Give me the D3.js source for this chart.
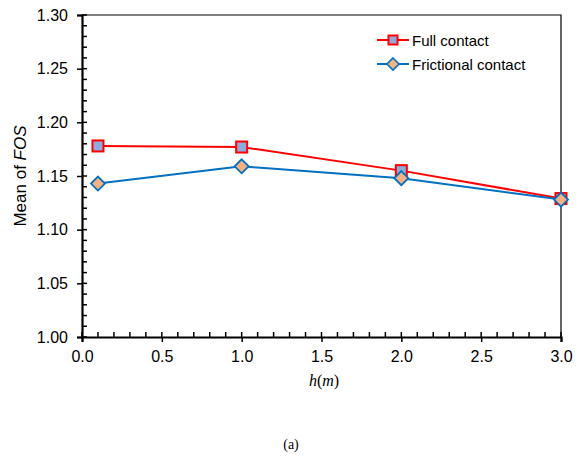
<!DOCTYPE html>
<html>
<head>
<meta charset="utf-8">
<script src="https://cdn.jsdelivr.net/npm/d3@7"></script>
<style>
body { margin: 0; background: #fff; }
</style>
</head>
<body>
<div id="chart"></div>
<script>
var hValues = [0.1, 1.0, 2.0, 3.0];
var fullContact = [1.178, 1.177, 1.155, 1.129];
var frictionalContact = [1.143, 1.159, 1.148, 1.128];
var seriesNames = ["Full contact", "Frictional contact"];
var xTicks = [0, 0.5, 1, 1.5, 2, 2.5, 3];
var yTicks = [1.00, 1.05, 1.10, 1.15, 1.20, 1.25, 1.30];

var width = 582, height = 466;
var mLeft = 82, mRight = 561, mTop = 15, mBottom = 337;
var sans = "Liberation Sans, Arial, sans-serif";
var serif = "Liberation Serif, Times New Roman, serif";

var svg = d3.select("#chart").append("svg")
    .attr("width", width)
    .attr("height", height)
    .style("font-family", sans);

var x = d3.scaleLinear().domain([0, 3]).range([mLeft, mRight]);
var y = d3.scaleLinear().domain([1.0, 1.3]).range([mBottom, mTop]);

// frame top and right
svg.append("path")
    .attr("d", "M" + mLeft + "," + mTop + "H" + mRight + "V" + mBottom)
    .attr("fill", "none")
    .attr("stroke", "#000")
    .attr("stroke-width", 1.2);

// minor ticks (inside)
var xMinor = d3.range(0, 31).map(function (i) { return i / 10; });
svg.append("g").selectAll("line")
    .data(xMinor)
    .enter().append("line")
    .attr("x1", function (d) { return x(d); })
    .attr("x2", function (d) { return x(d); })
    .attr("y1", mBottom)
    .attr("y2", mBottom - 5)
    .attr("stroke", "#000")
    .attr("stroke-width", 1.5);

var yMinor = d3.range(0, 31).map(function (i) { return 1 + i / 100; });
svg.append("g").selectAll("line")
    .data(yMinor)
    .enter().append("line")
    .attr("x1", mLeft)
    .attr("x2", mLeft + 5)
    .attr("y1", function (d) { return y(d); })
    .attr("y2", function (d) { return y(d); })
    .attr("stroke", "#000")
    .attr("stroke-width", 1.5);

// axes
var xAxis = svg.append("g")
    .attr("transform", "translate(0," + mBottom + ")")
    .call(d3.axisBottom(x).tickValues(xTicks).tickFormat(d3.format(".1f")).tickSize(5).tickPadding(6));
var yAxis = svg.append("g")
    .attr("transform", "translate(" + mLeft + ",0)")
    .call(d3.axisLeft(y).tickValues(yTicks).tickFormat(d3.format(".2f")).tickSize(5).tickPadding(9));

[xAxis, yAxis].forEach(function (g) {
    g.select(".domain").attr("stroke-width", 2.2);
    g.selectAll(".tick line").attr("stroke-width", 1.5);
    g.selectAll(".tick text")
        .attr("font-size", 16)
        .attr("font-family", sans)
        .attr("fill", "#000");
});
xAxis.selectAll(".tick text").attr("dy", "0.85em");

// lines
var line = d3.line()
    .x(function (d) { return x(d[0]); })
    .y(function (d) { return y(d[1]); });

var fullData = hValues.map(function (h, i) { return [h, fullContact[i]]; });
var fricData = hValues.map(function (h, i) { return [h, frictionalContact[i]]; });

svg.append("path")
    .datum(fullData)
    .attr("d", line)
    .attr("fill", "none")
    .attr("stroke", "#FF0000")
    .attr("stroke-width", 2);

svg.append("g").selectAll("rect")
    .data(fullData)
    .enter().append("rect")
    .attr("x", function (d) { return x(d[0]) - 5.5; })
    .attr("y", function (d) { return y(d[1]) - 5.5; })
    .attr("width", 11)
    .attr("height", 11)
    .attr("fill", "#8FAADC")
    .attr("stroke", "#FF0000")
    .attr("stroke-width", 2);

svg.append("path")
    .datum(fricData)
    .attr("d", line)
    .attr("fill", "none")
    .attr("stroke", "#0070C0")
    .attr("stroke-width", 2);

svg.append("g").selectAll("path")
    .data(fricData)
    .enter().append("path")
    .attr("d", "M0,-7L7,0L0,7L-7,0Z")
    .attr("transform", function (d) { return "translate(" + x(d[0]) + "," + y(d[1]) + ")"; })
    .attr("fill", "#F4B183")
    .attr("stroke", "#0070C0")
    .attr("stroke-width", 1.8);

// legend
var legend = svg.append("g").attr("transform", "translate(377,40)");
legend.append("line").attr("x1", 0).attr("x2", 32).attr("y1", 0).attr("y2", 0)
    .attr("stroke", "#FF0000").attr("stroke-width", 2);
legend.append("rect").attr("x", 11.5).attr("y", -4.5).attr("width", 9).attr("height", 9)
    .attr("fill", "#8FAADC").attr("stroke", "#FF0000").attr("stroke-width", 2);
legend.append("text").attr("x", 35).attr("y", 5.5).attr("font-size", 15).text(seriesNames[0]);

legend.append("line").attr("x1", 0).attr("x2", 32).attr("y1", 24).attr("y2", 24)
    .attr("stroke", "#0070C0").attr("stroke-width", 2);
legend.append("path").attr("d", "M16,18L22,24L16,30L10,24Z")
    .attr("fill", "#F4B183").attr("stroke", "#0070C0").attr("stroke-width", 1.6);
legend.append("text").attr("x", 35).attr("y", 29.5).attr("font-size", 15).text(seriesNames[1]);

// axis titles
var yTitle = svg.append("text")
    .attr("transform", "translate(26," + ((mTop + mBottom) / 2) + ") rotate(-90)")
    .attr("text-anchor", "middle")
    .attr("font-size", 17);
yTitle.append("tspan").text("Mean of ");
yTitle.append("tspan").attr("font-style", "italic").text("FOS");

var xTitle = svg.append("text")
    .attr("x", 324)
    .attr("y", 386)
    .attr("text-anchor", "middle")
    .attr("font-family", serif)
    .attr("font-size", 16)
    .attr("font-style", "italic");
xTitle.append("tspan").text("h");
xTitle.append("tspan").attr("font-style", "normal").text("(");
xTitle.append("tspan").text("m");
xTitle.append("tspan").attr("font-style", "normal").text(")");

svg.append("text")
    .attr("x", 291)
    .attr("y", 449)
    .attr("text-anchor", "middle")
    .attr("font-family", serif)
    .attr("font-size", 14)
    .text("(a)");
</script>
</body>
</html>
